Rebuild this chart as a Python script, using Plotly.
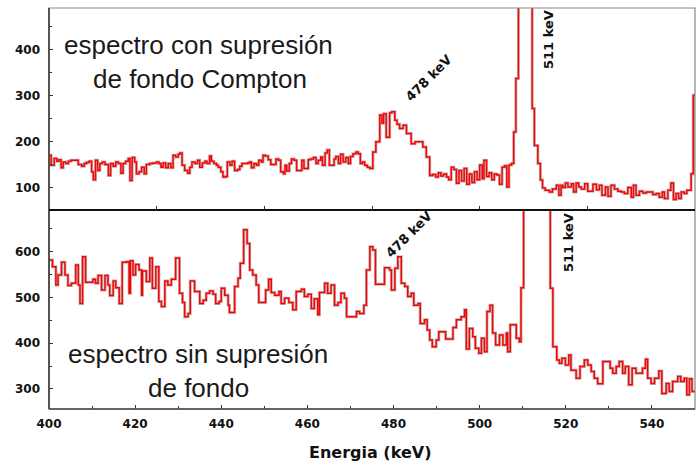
import plotly.graph_objects as go

# ---------------- data ----------------
# Upper panel: spectrum with Compton suppression (bin start energy, counts)
top_energy = [
    400.0, 400.5, 401.2, 401.8, 402.3, 402.8, 403.3, 403.9, 404.5, 405.1,
    406.8, 407.6, 408.2, 408.7, 409.3, 409.9, 410.3, 410.8, 411.3, 411.8,
    412.4, 413.0, 413.8, 414.3, 414.9, 415.5, 416.1, 416.7, 417.2, 417.8,
    418.4, 418.8, 419.3, 419.9, 420.3, 420.9, 421.5, 422.1, 422.6, 423.4,
    424.2, 425.0, 425.5, 426.0, 426.5, 427.1, 427.7, 428.3, 428.8, 429.4,
    430.0, 430.4, 430.9, 431.5, 432.2, 432.7, 433.2, 433.9, 434.5, 435.0,
    435.6, 436.2, 436.7, 437.3, 437.7, 438.3, 438.9, 439.3, 439.9, 440.4,
    441.0, 441.4, 442.0, 442.5, 443.1, 443.8, 444.3, 444.8, 445.5, 446.1,
    446.6, 447.0, 447.6, 448.2, 448.7, 449.3, 449.7, 450.2, 450.9, 451.5,
    452.7, 453.3, 453.8, 454.4, 454.8, 455.2, 455.8, 456.3, 456.9, 457.5,
    458.7, 459.2, 460.2, 460.7, 461.4, 462.0, 462.5, 463.1, 463.5, 464.1,
    464.6, 465.1, 466.2, 466.6, 467.2, 467.7, 468.3, 468.9, 469.5, 470.0,
    470.6, 471.3, 471.8, 472.3, 472.8, 473.3, 473.9, 474.5, 475.2, 475.9,
    476.8, 477.3, 477.7, 478.3, 479.1, 479.6, 480.3, 480.8, 481.4, 482.2,
    483.0, 484.1, 485.0, 486.0, 486.8, 487.6, 488.4, 489.1, 489.8, 490.4,
    491.0, 491.6, 492.3, 492.8, 493.4, 494.0, 494.6, 495.2, 495.8, 496.4,
    497.0, 497.6, 498.2, 498.8, 499.4, 500.0, 500.6, 501.0, 501.6, 502.2,
    502.8, 503.4, 504.0, 504.6, 505.2, 505.8, 506.3, 506.8, 507.4, 507.9,
    508.4, 509.0, 509.7, 510.4, 511.1, 511.7, 512.2, 512.7, 513.5, 514.1,
    514.6, 515.2, 516.2, 516.9, 517.8, 518.4, 518.9, 519.3, 519.9, 520.5,
    521.3, 521.8, 522.4, 523.0, 523.6, 524.4, 525.1, 526.3, 527.1, 527.8,
    528.4, 529.2, 529.8, 530.5, 531.3, 532.1, 532.9, 533.6, 534.4, 535.2,
    535.7, 536.3, 537.1, 537.9, 538.7, 539.4, 540.2, 541.0, 541.7, 542.4,
    542.9, 543.7, 544.4, 545.0, 545.6, 546.2, 546.8, 547.5, 548.1, 548.7,
    549.1, 549.6,
]
top_counts = [
    171, 149, 164, 158, 161, 144, 156, 153, 158, 160,
    151, 147, 153, 155, 158, 135, 118, 160, 138, 153,
    156, 151, 127, 153, 147, 156, 153, 132, 153, 158,
    164, 116, 166, 156, 131, 135, 145, 131, 151, 153,
    154, 156, 153, 145, 154, 144, 153, 144, 171, 167,
    173, 176, 149, 138, 132, 145, 156, 153, 160, 145,
    154, 158, 153, 169, 158, 153, 149, 145, 135, 124,
    125, 156, 149, 158, 138, 140, 147, 153, 153, 154,
    156, 144, 153, 149, 160, 156, 171, 169, 161, 151,
    163, 160, 135, 131, 149, 137, 153, 163, 160, 138,
    160, 142, 161, 163, 166, 153, 160, 167, 149, 176,
    182, 149, 163, 168, 153, 173, 156, 166, 153, 168,
    174, 178, 174, 153, 156, 149, 145, 142, 178, 200,
    258, 240, 261, 210, 263, 265, 247, 238, 229, 236,
    218, 196, 200, 200, 189, 167, 127, 129, 124, 133,
    126, 130, 124, 118, 145, 140, 110, 138, 115, 142,
    108, 130, 112, 135, 118, 150, 120, 160, 125, 133,
    118, 130, 128, 108, 145, 148, 102, 150, 153, 221,
    337, 1500, 2500, 3000, 2000, 800, 272, 192, 153, 117,
    100, 95, 91, 98, 106, 84, 106, 101, 111, 102,
    109, 91, 111, 102, 98, 109, 93, 108, 96, 106,
    84, 102, 82, 106, 98, 93, 91, 88, 101, 80,
    106, 84, 93, 89, 91, 91, 86, 88, 80, 91,
    77, 95, 111, 75, 88, 77, 91, 88, 95, 95,
    131, 301,
]

# Lower panel: spectrum without background suppression
bottom_energy = [
    400.0, 400.8, 401.6, 402.1, 402.9, 403.7, 404.4, 405.2, 406.2, 406.8,
    407.2, 407.8, 408.5, 410.2, 410.8, 411.4, 412.2, 413.0, 413.7, 414.1,
    414.9, 415.5, 416.3, 417.0, 418.0, 418.6, 418.9, 419.5, 420.1, 420.9,
    421.5, 421.7, 422.6, 423.4, 424.0, 424.8, 425.5, 426.1, 426.9, 427.6,
    428.4, 429.4, 430.3, 431.0, 431.5, 432.3, 432.8, 433.8, 435.0, 435.8,
    436.5, 437.3, 438.1, 438.7, 439.5, 440.0, 440.8, 441.6, 441.9, 443.1,
    443.9, 444.4, 445.2, 446.0, 446.6, 447.3, 448.1, 448.7, 450.3, 451.0,
    451.6, 452.4, 453.4, 453.9, 454.7, 455.7, 456.6, 457.4, 458.6, 459.3,
    460.1, 460.9, 461.6, 462.4, 462.8, 464.0, 464.7, 465.5, 466.3, 467.1,
    467.8, 468.6, 469.1, 471.4, 472.1, 473.1, 473.7, 474.5, 475.2, 475.8,
    477.9, 479.1, 479.5, 480.3, 481.0, 481.8, 482.6, 483.3, 484.1, 484.7,
    485.7, 486.2, 487.2, 487.8, 488.4, 489.0, 489.9, 490.5, 492.1, 493.8,
    494.6, 495.7, 496.5, 496.9, 497.6, 498.4, 499.0, 499.8, 500.4, 501.1,
    501.7, 502.4, 503.0, 503.7, 504.6, 505.4, 506.2, 506.5, 507.1, 508.5,
    509.2, 509.6, 510.2, 511.0, 512.5, 514.0, 515.2, 516.4, 517.0, 517.9,
    518.5, 519.1, 519.9, 520.7, 521.2, 522.4, 523.3, 524.3, 525.1, 525.9,
    526.6, 527.4, 528.6, 530.3, 530.9, 531.7, 532.4, 533.2, 533.8, 534.6,
    535.4, 536.3, 537.8, 538.5, 539.0, 539.8, 540.6, 541.6, 542.3, 543.3,
    544.0, 544.8, 546.0, 546.7, 547.5, 548.1, 548.7, 549.3,
]
bottom_counts = [
    582, 567, 527, 549, 577, 549, 526, 531, 571, 527,
    487, 589, 533, 540, 531, 548, 516, 548, 527, 504,
    536, 521, 487, 577, 578, 509, 580, 549, 572, 560,
    505, 558, 535, 586, 520, 567, 491, 480, 536, 527,
    540, 586, 509, 489, 458, 465, 536, 513, 487, 494,
    509, 514, 507, 487, 491, 520, 505, 483, 467, 524,
    542, 575, 648, 618, 560, 549, 527, 489, 516, 540,
    511, 505, 513, 487, 498, 489, 473, 513, 518, 502,
    507, 476, 497, 462, 511, 531, 509, 527, 483, 489,
    509, 498, 458, 469, 465, 483, 560, 611, 604, 529,
    565, 560, 516, 564, 589, 531, 524, 502, 509, 483,
    487, 443, 451, 429, 407, 392, 407, 425, 409, 434,
    451, 458, 473, 387, 432, 414, 389, 378, 411, 381,
    469, 483, 422, 396, 418, 396, 422, 381, 440, 411,
    403, 521, 2000, 3000, 3500, 3000, 1500, 520, 392, 363,
    356, 367, 352, 374, 341, 323, 349, 363, 352, 338,
    323, 311, 360, 345, 334, 349, 360, 334, 349, 309,
    345, 334, 345, 365, 323, 312, 323, 339, 290, 312,
    294, 316, 327, 316, 323, 287, 322, 294,
]

x_end = 550.0
x_range = [400, 550]
top_y_range = [52, 490]
bottom_y_range = [256, 691]
bottom_x_ticks = [400, 420, 440, 460, 480, 500, 520, 540]
top_y_ticks = [100, 200, 300, 400]
bottom_y_ticks = [300, 400, 500, 600]

# ---------------- figure ----------------
W, H = 696, 465
L, R, T, B = 49, 1, 8, 56
split = 0.496

fig = go.Figure()

def add_spectrum(xs, ys, xa, ya):
    xs = list(xs) + [x_end]
    ys = list(ys) + [ys[-1]]
    fig.add_trace(go.Scatter(x=xs, y=ys, mode="lines", line_shape="hv",
                             line=dict(color="rgba(120,120,120,0.5)", width=3.0),
                             xaxis=xa, yaxis=ya, hoverinfo="skip", showlegend=False))
    fig.add_trace(go.Scatter(x=xs, y=ys, mode="lines", line_shape="hv",
                             line=dict(color="#ff0000", width=1.5),
                             xaxis=xa, yaxis=ya, showlegend=False))

add_spectrum(top_energy, top_counts, "x2", "y2")
add_spectrum(bottom_energy, bottom_counts, "x", "y")

tickfont = dict(family="DejaVu Sans", size=12, color="#111", weight="bold")

fig.update_layout(
    width=W, height=H,
    margin=dict(l=L, r=R, t=T, b=B),
    paper_bgcolor="white", plot_bgcolor="white",
    xaxis=dict(domain=[0, 1], range=x_range, anchor="y",
               tickvals=bottom_x_ticks, ticks="inside", ticklen=4, tickcolor="#333",
               minor=dict(ticks="inside", ticklen=3, dtick=10, tick0=400, tickcolor="#333"),
               showgrid=False, zeroline=False, showline=False,
               tickfont=tickfont, ticklabelstandoff=6),
    yaxis=dict(domain=[0, split], range=bottom_y_range, anchor="x",
               tickvals=bottom_y_ticks, ticks="inside", ticklen=4, tickcolor="#333",
               minor=dict(ticks="inside", ticklen=3, dtick=50, tick0=0, tickcolor="#333"),
               showgrid=False, zeroline=False, showline=False,
               tickfont=tickfont, ticklabelstandoff=8),
    xaxis2=dict(domain=[0, 1], range=x_range, anchor="y2",
                dtick=25, tick0=400, ticks="inside", ticklen=4, tickcolor="#333",
                showticklabels=False, showgrid=False, zeroline=False, showline=False),
    yaxis2=dict(domain=[split, 1], range=top_y_range, anchor="x2",
                tickvals=top_y_ticks, ticks="inside", ticklen=4, tickcolor="#333",
                minor=dict(ticks="inside", ticklen=3, dtick=50, tick0=0, tickcolor="#333"),
                showgrid=False, zeroline=False, showline=False,
                tickfont=tickfont, ticklabelstandoff=8),
)

# frame
shapes = [
    dict(type="rect", xref="paper", yref="paper", x0=0, x1=1, y0=0, y1=1,
         line=dict(color="#888", width=1.2)),
    dict(type="line", xref="paper", yref="paper", x0=0, x1=0, y0=0, y1=1,
         line=dict(color="#333", width=1.5)),
    dict(type="line", xref="paper", yref="paper", x0=0, x1=1, y0=0, y1=0,
         line=dict(color="#444", width=1.5)),
    dict(type="line", xref="paper", yref="paper", x0=0, x1=1, y0=split, y1=split,
         line=dict(color="#111", width=2)),
]
fig.update_layout(shapes=shapes)

def px(x):
    return (x - L) / (W - L - R)

def py(y):
    return (H - B - y) / (H - T - B)

big = dict(family="Liberation Sans", size=26, color="#1a1a1a")
lab = dict(family="DejaVu Sans", size=13, color="#111", weight="bold")
annotations = [
    dict(text="espectro con supresión", x=px(198), y=py(45), font=big),
    dict(text="de fondo Compton", x=px(200), y=py(79), font=big),
    dict(text="espectro sin supresión", x=px(198), y=py(354), font=big),
    dict(text="de fondo", x=px(198), y=py(388), font=big),
    dict(text="478 keV", x=px(428), y=py(78), font=lab, textangle=-45),
    dict(text="511 keV", x=px(548), y=py(40), font=lab, textangle=-90),
    dict(text="478 keV", x=px(409), y=py(235), font=lab, textangle=-45),
    dict(text="511 keV", x=px(568), y=py(243), font=lab, textangle=-90),
    dict(text="Energia (keV)", x=px(370), y=py(452),
         font=dict(family="DejaVu Sans", size=16, color="#111", weight="bold")),
]
for a in annotations:
    a.update(xref="paper", yref="paper", showarrow=False, xanchor="center", yanchor="middle")
fig.update_layout(annotations=annotations)

fig.write_html("out.html", config={"displayModeBar": False},
               post_script="document.body.style.margin='0px';")
